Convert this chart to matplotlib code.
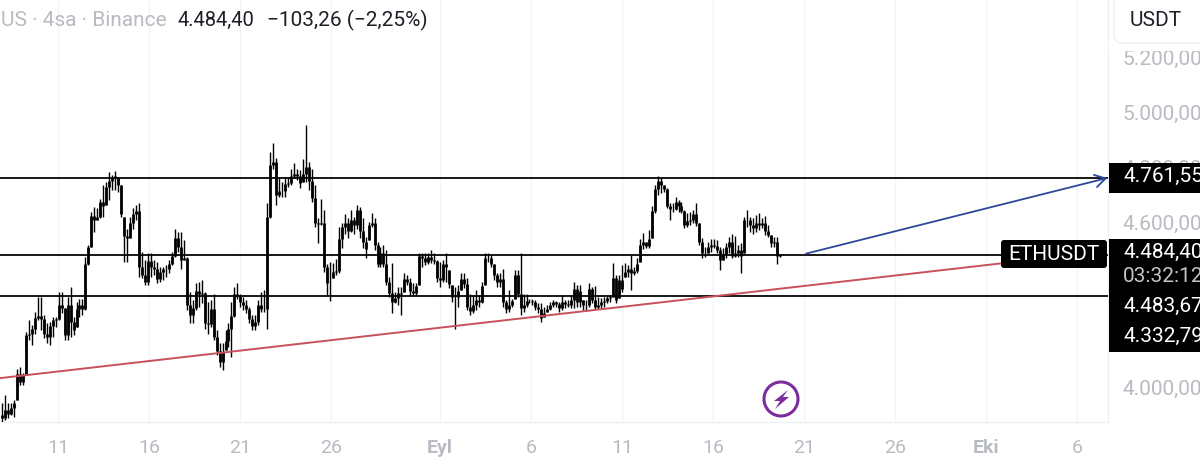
import numpy as np
import matplotlib
matplotlib.use('Agg')
import matplotlib.pyplot as plt
from matplotlib.patches import FancyBboxPatch, Rectangle, Ellipse, Polygon

# 4h candles
high = [3943,3973,3943,3943,3955,4070,4076,4052,4203,4246,4228,4276,4330,4330,4264,4234,4240,4258,4258,4349,
        4349,4288,4330,4367,4258,4312,4324,4324,4476,4518,4639,4657,4651,4687,4736,4748,4784,4772,4788,4766,
        4736,4621,4578,4621,4651,4663,4669,4494,4464,4488,4488,4464,4457,4439,4439,4445,4464,4494,4575,4566,
        4566,4536,4476,4349,4318,4379,4385,4391,4349,4312,4318,4342,4209,4161,4161,4209,4234,4312,4367,4379,
        4342,4330,4318,4294,4264,4264,4318,4349,4355,4669,4857,4887,4833,4766,4748,4766,4766,4796,4817,4796,
        4790,4829,4954,4820,4796,4736,4615,4687,4645,4451,4457,4454,4467,4584,4597,4630,4615,4645,4621,4663,
        4657,4615,4548,4603,4633,4615,4530,4512,4518,4500,4403,4454,4349,4367,4367,4415,4409,4397,4379,4379,
        4488,4490,4488,4488,4500,4488,4464,4457,4464,4490,4427,4373,4367,4373,4415,4415,4397,4342,4336,4355,
        4336,4385,4488,4490,4482,4451,4415,4415,4430,4318,4355,4324,4427,4427,4490,4342,4342,4324,4324,4318,
        4306,4306,4294,4300,4312,4318,4315,4312,4336,4318,4318,4336,4385,4373,4373,4318,4318,4381,4367,4369,
        4331,4325,4331,4337,4337,4454,4409,4409,4446,4452,4446,4482,4439,4470,4539,4563,4530,4573,4660,4736,
        4769,4760,4736,4727,4669,4669,4691,4681,4675,4645,4633,4639,4645,4672,4599,4542,4512,4530,4539,4539,
        4536,4512,4506,4524,4548,4560,4551,4518,4524,4621,4645,4621,4615,4627,4636,4615,4623,4591,4554,
        4546,4546,4485]
low = [3877,3883,3889,3901,3895,3955,4010,4010,4046,4173,4155,4197,4246,4209,4179,4161,4155,4185,4222,4246,
       4270,4173,4173,4185,4191,4222,4258,4264,4282,4445,4512,4566,4609,4615,4621,4663,4681,4718,4718,4712,
       4621,4457,4457,4542,4578,4609,4403,4397,4373,4373,4403,4409,4379,4385,4391,4403,4415,4445,4476,4494,
       4433,4464,4282,4234,4234,4282,4294,4306,4215,4197,4222,4173,4119,4076,4064,4137,4149,4113,4258,4324,
       4294,4282,4270,4234,4209,4209,4228,4276,4276,4215,4615,4796,4663,4693,4693,4693,4730,4736,4760,4754,
       4724,4748,4748,4718,4675,4584,4524,4591,4421,4336,4316,4397,4409,4415,4506,4560,4542,4566,4560,4578,
       4542,4506,4470,4536,4584,4500,4439,4439,4439,4373,4330,4270,4306,4300,4264,4349,4373,4336,4336,4336,
       4373,4439,4445,4451,4454,4451,4385,4367,4385,4385,4361,4312,4215,4294,4355,4361,4282,4264,4270,4282,
       4294,4306,4373,4457,4439,4391,4367,4367,4294,4270,4276,4294,4324,4330,4264,4276,4294,4306,4300,4282,
       4270,4240,4258,4276,4282,4294,4294,4276,4282,4288,4294,4288,4288,4294,4294,4282,4280,4294,4306,4282,
       4285,4288,4294,4306,4312,4331,4306,4325,4349,4403,4403,4355,4409,4415,4458,4502,4506,4506,4542,4633,
       4700,4706,4712,4651,4609,4639,4645,4639,4633,4579,4582,4591,4597,4587,4518,4470,4476,4488,4494,4506,
       4488,4427,4464,4470,4488,4470,4476,4476,4418,4488,4585,4567,4560,4567,4573,4579,4554,4546,4512,
       4512,4449,4476]
close = [3890,3920,3905,3925,3945,4050,4020,4045,4190,4195,4215,4255,4260,4250,4195,4185,4225,4245,4250,4300,
         4290,4190,4300,4240,4210,4285,4300,4285,4450,4510,4625,4610,4620,4675,4660,4730,4750,4760,4770,4735,
         4630,4550,4545,4600,4630,4640,4440,4410,4385,4460,4440,4430,4395,4420,4430,4430,4450,4480,4545,4510,
         4465,4470,4300,4265,4290,4350,4340,4345,4235,4230,4285,4185,4135,4095,4130,4170,4215,4260,4340,4335,
         4310,4300,4285,4250,4225,4240,4300,4285,4285,4620,4810,4820,4700,4715,4715,4740,4745,4770,4775,4770,
         4745,4775,4800,4750,4690,4600,4595,4600,4440,4380,4380,4420,4425,4540,4585,4600,4570,4610,4590,4645,
         4570,4530,4505,4590,4600,4520,4450,4490,4450,4385,4345,4310,4325,4345,4340,4395,4385,4350,4345,4370,
         4480,4470,4455,4475,4465,4460,4400,4390,4450,4440,4375,4330,4330,4350,4395,4375,4295,4280,4300,4320,
         4310,4370,4470,4470,4450,4410,4385,4395,4310,4285,4300,4315,4410,4340,4290,4300,4315,4315,4310,4295,
         4285,4255,4270,4285,4300,4310,4305,4290,4310,4305,4300,4320,4360,4310,4350,4300,4300,4360,4320,4295,
         4300,4310,4315,4325,4330,4400,4320,4390,4360,4420,4430,4415,4425,4450,4520,4530,4515,4540,4640,4720,
         4750,4735,4720,4660,4650,4650,4675,4660,4640,4590,4605,4610,4630,4600,4530,4490,4490,4510,4520,4515,
         4500,4465,4485,4510,4530,4480,4490,4500,4480,4610,4610,4590,4580,4600,4590,4600,4570,4555,4525,
         4530,4480,4484.4]

levels = [4761.55, 4483.67, 4332.79]
price_ticks = [4000, 4600, 4800, 5000, 5200]
price_labels = ['4.000,00', '4.600,00', '4.800,00', '5.000,00', '5.200,00']
day_ticks = [0, 5, 10, 15, 21, 26, 31, 36, 41, 46, 51, 56]
day_labels = ['11', '16', '21', '26', 'Eyl', '6', '11', '16', '21', '26', 'Eki', '6']
blue_days = [41.1, 57.65]
blue_prices = [4487, 4761.55]
red_days = [-3.19, 52]
red_prices = [4035, 4453]

plt.rcParams['font.family'] = ['Roboto', 'DejaVu Sans']
W, H = 1200, 467
GRAY = '#b8bbc2'


def fx(x):
    return x / W


def fy(y):
    return 1 - y / H


fig = plt.figure(figsize=(12, 4.67), dpi=100)
ax = fig.add_axes([0, fy(422), fx(1108), 1 - fy(422)])
ax.set_xlim(-3.187, 57.69)
ax.set_ylim(3875.8, 5407.7)

# candles
high = np.array(high)
low = np.array(low)
close = np.array(close)
days = -3.077 + np.arange(len(close)) * 0.16374
open_ = np.clip(np.r_[3900, close[:-1]], low, high)
ax.vlines(days, low, high, color='black', lw=1.0, zorder=3)
ax.vlines(days, open_, close, color='black', lw=2.0, zorder=3)

# drawings
for lv in levels:
    ax.axhline(lv, color='#050505', lw=1.3, zorder=4)
ax.plot(red_days, red_prices, color='#c8505c', lw=1.4, zorder=5)
ax.annotate('', xy=(blue_days[1], blue_prices[1]), xytext=(blue_days[0], blue_prices[0]),
            arrowprops=dict(arrowstyle='->,head_length=0.75,head_width=0.45', color='#2d479c', lw=1.3,
                            shrinkA=0, shrinkB=0), zorder=5)

# axes
ax.set_xticks(day_ticks)
ax.set_xticklabels(day_labels, fontsize=14, color=GRAY)
for lab, txt in zip(ax.get_xticklabels(), day_labels):
    if txt in ('Eyl', 'Eki'):
        lab.set_fontweight('bold')
ax.yaxis.tick_right()
ax.set_yticks(price_ticks)
ax.set_yticklabels(price_labels, fontsize=15, color=GRAY)
ax.tick_params(axis='both', length=0)
ax.tick_params(axis='x', pad=12)
ax.tick_params(axis='y', pad=10.5)
ax.grid(True, axis='x', color='#f3f4f7', lw=1)
ax.set_axisbelow(True)
for side in ('top', 'left'):
    ax.spines[side].set_visible(False)
for side in ('right', 'bottom'):
    ax.spines[side].set_color('#eef0f3')
    ax.spines[side].set_linewidth(1)


def box(x0, y0, x1, y1, color='black', round_px=0, edge='none'):
    if round_px:
        p = FancyBboxPatch((x0, H - y1), x1 - x0, y1 - y0,
                           boxstyle=f'round,pad=0,rounding_size={round_px}',
                           fc=color, ec=edge, lw=1, zorder=6, transform=None)
        p.set_transform(fig.dpi_scale_trans.inverted().frozen() + fig.dpi_scale_trans)
    else:
        p = Rectangle((fx(x0), fy(y1)), (x1 - x0) / W, (y1 - y0) / H, fc=color, ec=edge,
                      transform=fig.transFigure, zorder=6)
    fig.add_artist(p)


def label(x, y, s, color='white', size=15, **kw):
    fig.text(fx(x), fy(y), s, color=color, fontsize=size, va='center', ha='left', zorder=7, **kw)


# price tags
box(1109, 163, 1200, 193)
box(1109, 239, 1200, 352)
box(1001, 240, 1107, 268, round_px=3)
box(1109, 40, 1200, 51, color='white')
box(1114, -8, 1215, 43, color='white', round_px=8, edge='#eef0f3')
label(1123, 176, '4.761,55')
label(1123, 252, '4.484,40')
label(1123, 277, '03:32:12', color='#c4c4c4')
label(1123, 306, '4.483,67')
label(1123, 336, '4.332,79')
label(1008, 254, 'ETHUSDT', size=15)
label(1130, 20, 'USDT', color='#1c1f26', size=15)

# header
label(1, 20, 'US · 4sa · Binance', color=GRAY, size=15)
label(177, 20, '4.484,40', color='#1c1f26', size=14.5)
label(267, 20, '−103,26 (−2,25%)', color='#1c1f26', size=15)

# lightning badge
fig.add_artist(Ellipse((fx(781), fy(399)), 34 / W, 34 / H, fc='white', ec='#7b2d9e', lw=2.2,
                       transform=fig.transFigure, zorder=6))
bolt = [(788, 390), (774, 401), (780, 401), (775, 409), (789, 397), (783, 397)]
fig.add_artist(Polygon([(fx(a), fy(b)) for a, b in bolt], fc='#7b2d9e', ec='none',
                       transform=fig.transFigure, zorder=7))

fig.savefig('out.png', dpi=100)
